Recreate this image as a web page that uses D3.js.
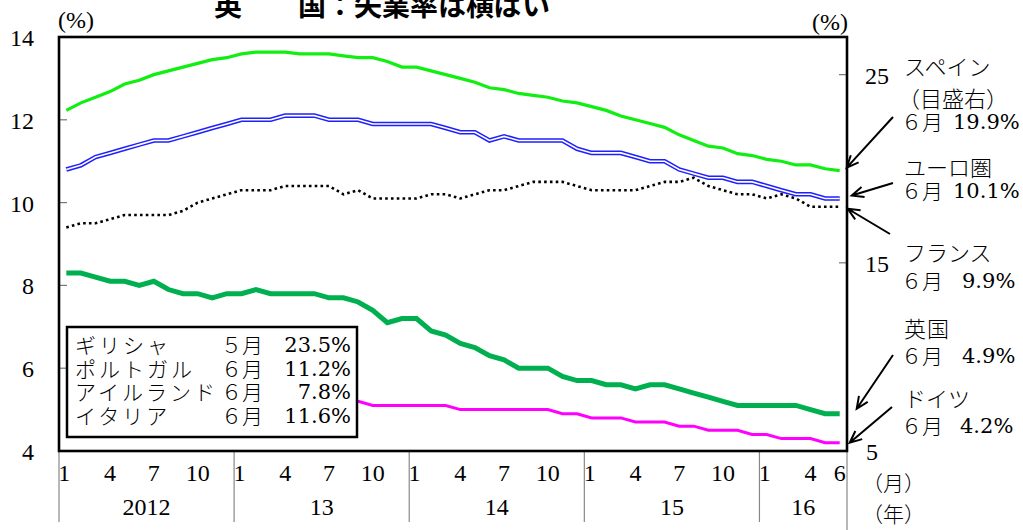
<!DOCTYPE html>
<html><head><meta charset="utf-8">
<script src="https://cdn.jsdelivr.net/npm/d3@7"></script>
<style>body{margin:0;background:#fff} svg{display:block}</style>
</head><body><svg id="c" width="1023" height="530"></svg>
<script>
// ---------- data ----------
const years = ["2012", "13", "14", "15", "16"];
const monthsPerYear = [12, 12, 12, 12, 6];
const monthTickLabels = ["1", "4", "7", "10"];
const leftTicks = [4, 6, 8, 10, 12, 14];
const rightTicks = [5, 15, 25];

// Spain (right axis)
const spain = [23.1,23.5,23.8,24.1,24.5,24.7,25.0,25.2,25.4,25.6,25.8,25.9,
               26.1,26.2,26.2,26.2,26.1,26.1,26.1,26.0,25.9,25.9,25.7,25.4,
               25.4,25.2,25.0,24.8,24.6,24.3,24.2,24.0,23.9,23.8,23.6,23.5,
               23.3,23.1,22.8,22.6,22.4,22.2,21.8,21.5,21.2,21.1,20.8,20.7,
               20.5,20.4,20.2,20.2,20.0,19.9];
// Euro area (left axis)
const euro = [10.8,10.9,11.1,11.2,11.3,11.4,11.5,11.5,11.6,11.7,11.8,11.9,
              12.0,12.0,12.0,12.1,12.1,12.1,12.0,12.0,12.0,11.9,11.9,11.9,
              11.9,11.9,11.8,11.7,11.7,11.5,11.6,11.5,11.5,11.5,11.5,11.3,
              11.2,11.2,11.2,11.1,11.0,11.0,10.8,10.7,10.6,10.6,10.5,10.5,
              10.4,10.3,10.2,10.2,10.1,10.1];
// France (left axis)
const france = [9.4,9.5,9.5,9.6,9.7,9.7,9.7,9.7,9.8,10.0,10.1,10.2,
                10.3,10.3,10.3,10.4,10.4,10.4,10.4,10.2,10.3,10.1,10.1,10.1,
                10.1,10.2,10.2,10.1,10.2,10.3,10.3,10.4,10.5,10.5,10.5,10.4,
                10.3,10.3,10.3,10.3,10.4,10.5,10.5,10.6,10.4,10.3,10.2,10.2,
                10.1,10.2,10.1,9.9,9.9,9.9];
// UK (left axis)
const uk = [8.3,8.3,8.2,8.1,8.1,8.0,8.1,7.9,7.8,7.8,7.7,7.8,
            7.8,7.9,7.8,7.8,7.8,7.8,7.7,7.7,7.6,7.4,7.1,7.2,
            7.2,6.9,6.8,6.6,6.5,6.3,6.2,6.0,6.0,6.0,5.8,5.7,
            5.7,5.6,5.6,5.5,5.6,5.6,5.5,5.4,5.3,5.2,5.1,5.1,
            5.1,5.1,5.1,5.0,4.9,4.9];
// Germany (left axis)
const germany = [5.5,5.5,5.5,5.4,5.4,5.4,5.4,5.4,5.4,5.4,5.4,5.4,
                 5.4,5.4,5.4,5.3,5.3,5.3,5.3,5.2,5.2,5.1,5.1,5.1,
                 5.1,5.1,5.1,5.0,5.0,5.0,5.0,5.0,5.0,5.0,4.9,4.9,
                 4.8,4.8,4.8,4.7,4.7,4.7,4.6,4.6,4.5,4.5,4.5,4.4,
                 4.4,4.3,4.3,4.3,4.2,4.2];

const legendNames = ["ギリシャ", "ポルトガル", "アイルランド", "イタリア"];
const legendMonths = ["５月", "６月", "６月", "６月"];
const legendValues = ["23.5%", "11.2%", "7.8%", "11.6%"];

const annNames = ["スペイン", "ユーロ圏", "フランス", "英国", "ドイツ"];
const annMonths = ["６月", "６月", "６月", "６月", "６月"];
const annValues = ["19.9%", "10.1%", "9.9%", "4.9%", "4.2%"];

const title = "英　　国：失業率は横ばい";

// ---------- layout ----------
const svg = d3.select("#c");
const L = 59, R = 847, T = 37, B = 451;
const serif = "'Liberation Serif','Times New Roman',serif";
const numFont = "'DejaVu Serif','Liberation Serif',serif";
const jp = "'Noto Sans CJK JP','Noto Sans',sans-serif";

const cats = [];
years.forEach((y, yi) => { for (let m = 1; m <= monthsPerYear[yi]; m++) cats.push({yi, m}); });
const N = cats.length;

const x = d3.scaleLinear().domain([-0.5, N - 0.5]).range([L, R]);
const yL = d3.scaleLinear().domain([4, 14]).range([B, T]);
const yR = d3.scaleLinear().domain([5, 27]).range([B, T]);

// title
svg.append("text").attr("x", 214).attr("y", 16).attr("font-family", jp).attr("font-weight", "bold")
  .attr("font-size", 28).attr("fill", "#000").text(title);

// unit labels
svg.append("text").attr("x", 76).attr("y", 20).attr("text-anchor", "middle").attr("dominant-baseline", "central")
  .attr("font-family", serif).attr("font-size", 24).text("(%)");
svg.append("text").attr("x", 830).attr("y", 22).attr("text-anchor", "middle").attr("dominant-baseline", "central")
  .attr("font-family", serif).attr("font-size", 24).text("(%)");

// left ticks
leftTicks.forEach(v => {
  svg.append("text").attr("x", 34).attr("y", yL(v) + 1).attr("text-anchor", "end").attr("dominant-baseline", "central")
    .attr("font-family", serif).attr("font-size", 24).text(v);
  if (v > 4 && v < 14) svg.append("line").attr("x1", L).attr("x2", L + 8).attr("y1", yL(v)).attr("y2", yL(v))
    .attr("stroke", "#777").attr("stroke-width", 1.2);
});
// right ticks
rightTicks.forEach(v => {
  svg.append("text").attr("x", v === 5 ? 866 : 865).attr("y", yR(v) + 1).attr("text-anchor", "start").attr("dominant-baseline", "central")
    .attr("font-family", serif).attr("font-size", 24).text(v);
  if (v > 5) svg.append("line").attr("x1", R - 8).attr("x2", R).attr("y1", yR(v)).attr("y2", yR(v))
    .attr("stroke", "#777").attr("stroke-width", 1.2);
});

// x axis month labels and year labels
cats.forEach((c, i) => {
  const lab = monthTickLabels.includes(String(c.m)) || (i === N - 1) ? String(c.m) : null;
  if (lab) svg.append("text").attr("x", x(i) - (c.m === 1 ? 2 : 0)).attr("y", 473).attr("text-anchor", "middle")
    .attr("dominant-baseline", "central").attr("font-family", serif).attr("font-size", 24).text(lab);
});
let start = 0;
years.forEach((y, yi) => {
  const end = start + monthsPerYear[yi];
  const x0 = x(start - 0.5), x1 = x(end - 0.5);
  svg.append("line").attr("x1", x0).attr("x2", x0).attr("y1", B).attr("y2", 522).attr("stroke", "#888").attr("stroke-width", 1.2);
  svg.append("text").attr("x", (x0 + x1) / 2).attr("y", 507).attr("text-anchor", "middle").attr("dominant-baseline", "central")
    .attr("font-family", serif).attr("font-size", 24).text(y);
  start = end;
});
svg.append("line").attr("x1", R).attr("x2", R).attr("y1", B).attr("y2", 530).attr("stroke", "#888").attr("stroke-width", 1.2);

// lines
const lineL = d3.line().x((d, i) => x(i)).y(d => yL(d));
const lineR = d3.line().x((d, i) => x(i)).y(d => yR(d));

svg.append("path").attr("d", lineL(france)).attr("fill", "none").attr("stroke", "#000")
  .attr("stroke-width", 2.6).attr("stroke-dasharray", "2.6,3.2");
svg.append("path").attr("d", lineL(euro)).attr("fill", "none").attr("stroke", "#1f1fff").attr("stroke-width", 4.6);
svg.append("path").attr("d", lineL(euro)).attr("fill", "none").attr("stroke", "#fff").attr("stroke-width", 1.6);
svg.append("path").attr("d", lineR(spain)).attr("fill", "none").attr("stroke", "#11ee11").attr("stroke-width", 3.2);
svg.append("path").attr("d", lineL(germany)).attr("fill", "none").attr("stroke", "#ff00ff").attr("stroke-width", 3);
svg.append("path").attr("d", lineL(uk)).attr("fill", "none").attr("stroke", "#00b050").attr("stroke-width", 5);

// legend box
svg.append("rect").attr("x", 67).attr("y", 327).attr("width", 290).attr("height", 110)
  .attr("fill", "#fff").attr("stroke", "#000").attr("stroke-width", 2.5);
legendNames.forEach((n, k) => {
  const yy = 344 + k * 23.5;
  svg.append("text").attr("x", 75).attr("y", yy).attr("dominant-baseline", "central").attr("font-family", jp)
    .attr("font-size", 21).attr("letter-spacing", 3).attr("font-weight", 300).text(n);
  svg.append("text").attr("x", 221).attr("y", yy).attr("dominant-baseline", "central").attr("font-family", jp)
    .attr("font-size", 21).attr("font-weight", 300).text(legendMonths[k]);
  svg.append("text").attr("x", 351).attr("y", yy + 1).attr("text-anchor", "end").attr("dominant-baseline", "central")
    .attr("font-family", numFont).attr("font-size", 21).text(legendValues[k]);
});

// frame
svg.append("rect").attr("x", L).attr("y", T).attr("width", R - L).attr("height", B - T)
  .attr("fill", "none").attr("stroke", "#000").attr("stroke-width", 2.6);

// right annotations
const annNameY = [65, 166, 251, 327, 397];
const annValY = [121, 190, 280, 355, 425];
const annValX = [953, 953, 962, 962, 960];
annNames.forEach((n, k) => {
  svg.append("text").attr("x", 904).attr("y", annNameY[k]).attr("dominant-baseline", "central").attr("font-family", jp)
    .attr("font-size", 22).attr("font-weight", 300).attr("letter-spacing", k === 3 ? 1 : 0).text(n);
  svg.append("text").attr("x", 901).attr("y", annValY[k]).attr("dominant-baseline", "central").attr("font-family", jp)
    .attr("font-size", 21).attr("font-weight", 300).text(annMonths[k]);
  svg.append("text").attr("x", annValX[k]).attr("y", annValY[k] + 1).attr("dominant-baseline", "central")
    .attr("font-family", numFont).attr("font-size", 21).text(annValues[k]);
});
svg.append("text").attr("x", 898).attr("y", 97).attr("dominant-baseline", "central").attr("font-family", jp)
  .attr("font-size", 22).attr("font-weight", 300).text("（目盛右）");
svg.append("text").attr("x", 862).attr("y", 482).attr("dominant-baseline", "central").attr("font-family", jp)
  .attr("font-size", 21).attr("font-weight", 300).text("（月）");
svg.append("text").attr("x", 862).attr("y", 513).attr("dominant-baseline", "central").attr("font-family", jp)
  .attr("font-size", 21).attr("font-weight", 300).text("（年）");

// arrows: tails near labels, tips at series end points
const xe = x(N - 1);
const arrows = [
  {tail: [893, 117], tip: [xe + 7, yR(spain[N - 1]) - 3]},
  {tail: [893, 183], tip: [xe + 12, yL(euro[N - 1]) - 3]},
  {tail: [890, 234], tip: [xe + 8, yL(france[N - 1]) + 2]},
  {tail: [893, 355], tip: [xe + 17, yL(uk[N - 1]) - 5]},
  {tail: [892, 407], tip: [xe + 10, yL(germany[N - 1])]}
];
arrows.forEach(a => {
  const [x0, y0] = a.tail, [x1, y1] = a.tip;
  const ang = Math.atan2(y1 - y0, x1 - x0);
  const h = 13, w = 0.42;
  const p1 = [x1 - h * Math.cos(ang - w), y1 - h * Math.sin(ang - w)];
  const p2 = [x1 - h * Math.cos(ang + w), y1 - h * Math.sin(ang + w)];
  svg.append("path").attr("d", `M${x0},${y0}L${x1},${y1}M${p1[0]},${p1[1]}L${x1},${y1}L${p2[0]},${p2[1]}`)
    .attr("fill", "none").attr("stroke", "#000").attr("stroke-width", 2);
});
</script></body></html>
